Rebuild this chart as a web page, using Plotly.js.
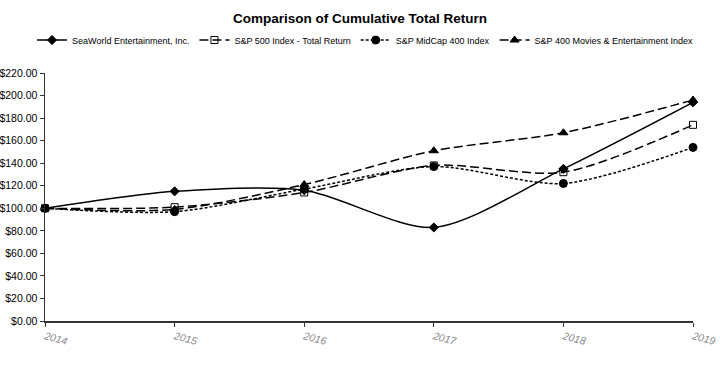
<!DOCTYPE html>
<html><head><meta charset="utf-8">
<script src="https://cdn.plot.ly/plotly-3.0.1.min.js"></script>
<style>body{margin:0;background:#fff}#c{width:720px;height:377px}</style>
</head><body><div id="c"></div>
<script>
const years = [2014, 2015, 2016, 2017, 2018, 2019];
const seaWorld = [100, 115, 116, 83, 135, 194];
const sp500 = [100, 101, 114, 138, 132, 174];
const midCap400 = [100, 97, 117, 137, 122, 154];
const movies400 = [100, 99, 121, 151, 167, 196];
const yTicks = [0, 20, 40, 60, 80, 100, 120, 140, 160, 180, 200, 220];

const mk = (name, y, dash, symbol, size) => ({
  x: years, y: y, name: name, type: 'scatter', mode: 'lines+markers',
  line: {color: '#000', width: 1.5, dash: dash, shape: 'spline', smoothing: 0.8},
  marker: {symbol: symbol, size: size, color: '#000', line: {color: '#000', width: 1}},
  cliponaxis: false
});
const data = [
  mk('SeaWorld Entertainment, Inc.', seaWorld, 'solid', 'diamond', 7),
  mk('S&P 500 Index - Total Return', sp500, '9px,4px', 'square-open', 7),
  mk('S&P MidCap 400 Index', midCap400, '3px,2px', 'circle', 8),
  mk('S&P 400 Movies & Entertainment Index', movies400, '9px,4px', 'triangle-up', 8)
];
const layout = {
  width: 720, height: 377,
  margin: {l: 45, r: 27, t: 73, b: 56},
  paper_bgcolor: '#fff', plot_bgcolor: '#fff',
  font: {family: 'Liberation Sans, Arial, sans-serif', color: '#000', size: 11},
  title: {text: '<b>Comparison of Cumulative Total Return</b>', x: 0.5, xanchor: 'center', y: 0.952, yanchor: 'middle', font: {size: 13.5, color: '#000'}},
  showlegend: true,
  legend: {orientation: 'h', x: -0.02, xanchor: 'left', y: 1.133, yanchor: 'middle', font: {size: 9}, itemwidth: 30, tracegroupgap: 0},
  xaxis: {
    range: [2014, 2019], tickvals: years, ticktext: years.map(String), tickangle: 15,
    showgrid: false, zeroline: false, showline: true, linecolor: '#333', linewidth: 1.5,
    ticks: 'outside', ticklen: 4, tickcolor: '#333',
    tickfont: {color: '#888', size: 10.5, style: 'italic'}
  },
  yaxis: {
    range: [0, 220], tickvals: yTicks, ticktext: yTicks.map(v => '$' + v.toFixed(2)),
    showgrid: false, zeroline: false, showline: true, linecolor: '#333', linewidth: 1.5,
    ticks: 'outside', ticklen: 4, tickcolor: '#333', tickfont: {size: 10.5, color: '#000'}
  }
};
Plotly.newPlot('c', data, layout, {staticPlot: true});
</script></body></html>
